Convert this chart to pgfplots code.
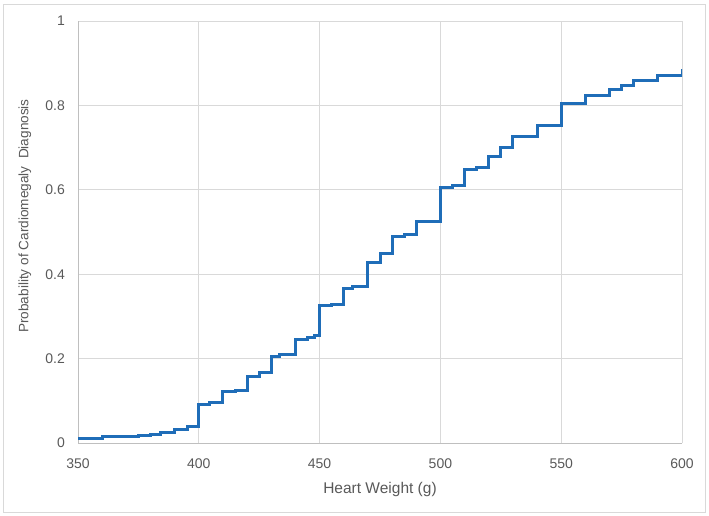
\documentclass[border=0pt]{standalone}
\usepackage{pgfplots}
\pgfplotsset{compat=1.18}
\usepackage{fontspec}
\setmainfont{Liberation Sans}
\definecolor{txt}{HTML}{595959}
\definecolor{gridc}{HTML}{D9D9D9}
\definecolor{axc}{HTML}{BFBFBF}
\definecolor{line}{HTML}{1F6DB8}
\begin{document}
\begin{tikzpicture}
\useasboundingbox (0,0) rectangle (709bp,516bp);
\draw[gridc, line width=0.8bp] (3bp,4bp) rectangle (705bp,512bp);
\begin{axis}[
  at={(78bp,73bp)}, anchor=south west,
  scale only axis, width=604bp, height=422bp,
  xmin=350, xmax=600, ymin=0, ymax=1,
  xtick={350,400,...,600}, ytick={0,0.2,...,1},
  yticklabels={0,0.2,0.4,0.6,0.8,1},
  grid=major, grid style={gridc, line width=0.8bp},
  major tick length=0pt,
  axis line style={axc, line width=0.8bp},
  axis x line*=bottom, axis y line*=left,
  /pgf/number format/assume math mode=true,
  tick label style={font=\fontsize{14bp}{16bp}\selectfont, text=txt},
  yticklabel style={anchor=east, inner sep=0pt, xshift=-13bp},
  xticklabel style={anchor=center, inner sep=0pt, yshift=-21bp},
  xlabel={Heart Weight (g)},
  ylabel={Probability of Cardiomegaly\ \ Diagnosis},
  label style={text=txt},
  xlabel style={font=\fontsize{15.5bp}{18bp}\selectfont, at={(axis description cs:0.5,-0.109)}, anchor=center},
  ylabel style={font=\fontsize{13.6bp}{16bp}\selectfont, at={(axis description cs:-0.088,0.538)}, anchor=center},
]
\addplot[const plot, line, line width=3bp] table {
x y
350 0.011
360 0.015
375 0.018
380 0.021
384 0.026
390 0.033
395.5 0.038
400 0.091
404.6 0.095
410 0.121
415.3 0.124
420 0.157
425 0.167
430 0.204
433.6 0.209
440 0.246
445 0.250
448 0.255
450 0.325
455 0.329
460 0.366
463.8 0.372
470 0.427
475 0.449
480 0.489
485 0.495
490 0.524
500 0.606
505 0.611
510 0.647
515 0.652
520 0.678
525 0.700
530 0.727
540 0.753
550 0.805
560 0.824
570 0.838
575 0.848
580 0.858
590 0.870
600 0.886
};
\end{axis}
\end{tikzpicture}
\end{document}
